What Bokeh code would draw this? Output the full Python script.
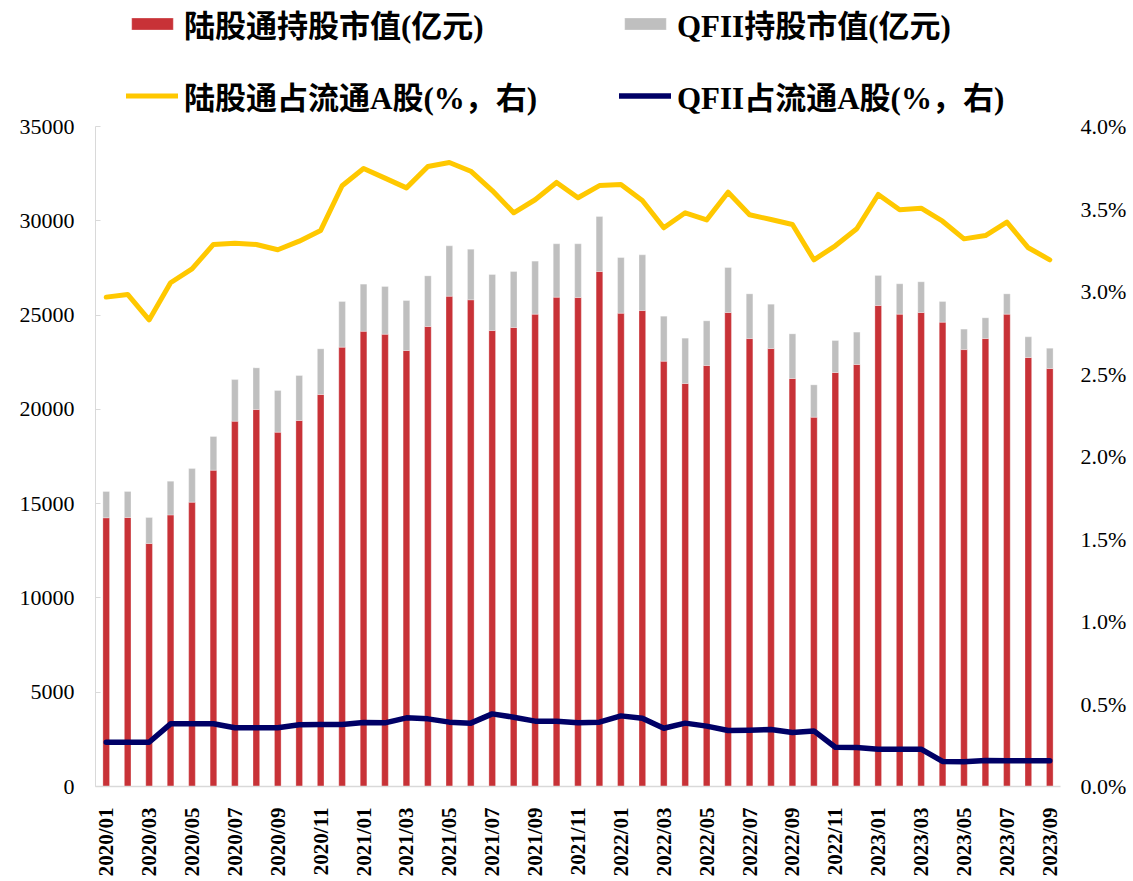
import math
from bokeh.plotting import figure
from bokeh.models import (Range1d, LinearAxis, FixedTicker, Legend, LegendItem,
                          ColumnDataSource, PrintfTickFormatter)
from bokeh.embed import file_html
from bokeh.resources import INLINE

months = [
    "2020/01", "2020/02", "2020/03", "2020/04", "2020/05", "2020/06", "2020/07", "2020/08", "2020/09",
    "2020/10", "2020/11", "2020/12",
    "2021/01", "2021/02", "2021/03", "2021/04", "2021/05", "2021/06", "2021/07", "2021/08", "2021/09",
    "2021/10", "2021/11", "2021/12",
    "2022/01", "2022/02", "2022/03", "2022/04", "2022/05", "2022/06", "2022/07", "2022/08", "2022/09",
    "2022/10", "2022/11", "2022/12",
    "2023/01", "2023/02", "2023/03", "2023/04", "2023/05", "2023/06", "2023/07", "2023/08", "2023/09",
]

# 陆股通持股市值 (亿元)
lgt_value = [14250, 14265, 12890, 14400, 15080, 16775, 19375, 19990, 18790, 19410, 20790, 23300,
             24140, 23985, 23120, 24395, 26000, 25810, 24180, 24340, 25050, 25950, 25930, 27310,
             25100, 25240, 22555, 21370, 22325, 25135, 23755, 23225, 21635, 19585, 21955, 22380,
             25510, 25050, 25135, 24625, 23170, 23755, 25050, 22750, 22165]
# QFII持股市值 (亿元)
qfii_value = [1394, 1385, 1375, 1790, 1780, 1785, 2205, 2210, 2210, 2385, 2420, 2420,
              2500, 2530, 2650, 2685, 2670, 2685, 2970, 2970, 2810, 2830, 2850, 2920,
              2950, 2955, 2385, 2405, 2370, 2385, 2370, 2350, 2370, 1715, 1695, 1715,
              1590, 1610, 1630, 1095, 1085, 1100, 1075, 1095, 1080]
# 陆股通占流通A股 (%)
lgt_pct = [2.966, 2.982, 2.828, 3.053, 3.137, 3.285, 3.293, 3.285, 3.253, 3.305, 3.370, 3.641,
           3.745, 3.687, 3.628, 3.758, 3.782, 3.729, 3.612, 3.477, 3.556, 3.661, 3.568, 3.642,
           3.648, 3.552, 3.386, 3.477, 3.434, 3.602, 3.465, 3.436, 3.406, 3.192, 3.277, 3.380,
           3.588, 3.495, 3.505, 3.426, 3.319, 3.339, 3.420, 3.265, 3.192]
# QFII占流通A股 (%)
qfii_pct = [0.268, 0.268, 0.268, 0.380, 0.380, 0.380, 0.356, 0.356, 0.356, 0.374, 0.376, 0.376,
            0.388, 0.386, 0.416, 0.410, 0.390, 0.384, 0.440, 0.420, 0.396, 0.396, 0.386, 0.390,
            0.428, 0.414, 0.353, 0.384, 0.366, 0.339, 0.341, 0.345, 0.327, 0.337, 0.238, 0.236,
            0.226, 0.226, 0.226, 0.152, 0.150, 0.158, 0.156, 0.156, 0.156]

left_ticks = [0, 5000, 10000, 15000, 20000, 25000, 30000, 35000]
right_ticks = [0.0, 0.5, 1.0, 1.5, 2.0, 2.5, 3.0, 3.5, 4.0]

labels = ["陆股通持股市值(亿元)", "QFII持股市值(亿元)", "陆股通占流通A股(%，右)", "QFII占流通A股(%，右)"]

RED = "#C83237"
GRAY = "#BFBFBF"
YELLOW = "#FFC800"
NAVY = "#000066"
AXIS = "#D9D9D9"
SERIF = "'Liberation Serif', 'Noto Sans CJK SC'"

# plot area: the value axes occupy the lower 660px of a 786px tall frame,
# the top strip of the frame holds the legend
PLOT_H = 660
TOP_H = 126
FRAME_H = PLOT_H + TOP_H
left_max = left_ticks[-1]
right_max = right_ticks[-1]

idx = list(range(len(months)))
src = ColumnDataSource(dict(x=idx, lgt=lgt_value, qfii=qfii_value, lp=lgt_pct, qp=qfii_pct))

p = figure(frame_width=965, frame_height=FRAME_H, output_backend="svg", toolbar_location=None,
           x_range=Range1d(-0.5, len(months) - 0.5),
           y_range=Range1d(0, left_max * FRAME_H / PLOT_H),
           min_border_left=95, min_border_right=70, min_border_top=0, min_border_bottom=92)
p.outline_line_color = None
p.xgrid.visible = False
p.ygrid.visible = False
p.background_fill_color = "white"
p.border_fill_color = "white"
p.extra_y_ranges = {"pct": Range1d(0, right_max * FRAME_H / PLOT_H)}

bars = p.vbar_stack(["lgt", "qfii"], x="x", width=0.31, color=[RED, GRAY], source=src,
                    line_color="white", line_width=0.5, line_alpha=0.6)
l1 = p.line("x", "lp", source=src, y_range_name="pct", color=YELLOW, line_width=5,
            line_cap="round", line_join="round")
l2 = p.line("x", "qp", source=src, y_range_name="pct", color=NAVY, line_width=5.5,
            line_cap="round", line_join="round")

# left axis
ya = p.yaxis[0]
ya.ticker = FixedTicker(ticks=left_ticks)
ya.bounds = (0, left_max)
ya.axis_line_color = AXIS
ya.major_tick_line_color = AXIS
ya.major_tick_in = 5
ya.major_tick_out = 0
ya.minor_tick_line_color = None
ya.major_label_standoff = 21
ya.major_label_text_font = SERIF
ya.major_label_text_font_size = "22px"
ya.major_label_text_color = "black"

# right axis
ra = LinearAxis(y_range_name="pct", ticker=FixedTicker(ticks=right_ticks),
                formatter=PrintfTickFormatter(format="%.1f%%"), bounds=(0, right_max))
ra.axis_line_color = None
ra.major_tick_line_color = None
ra.minor_tick_line_color = None
ra.major_label_standoff = 14
ra.major_label_text_font = SERIF
ra.major_label_text_font_size = "22px"
ra.major_label_text_color = "black"
p.add_layout(ra, "right")

# bottom axis
xa = p.xaxis[0]
xa.ticker = FixedTicker(ticks=idx[::2])
xa.major_label_overrides = {i: months[i] for i in idx}
xa.major_label_orientation = math.pi / 2
xa.axis_line_color = AXIS
xa.axis_line_width = 1.5
xa.major_tick_line_color = None
xa.minor_tick_line_color = None
xa.major_label_standoff = 15
xa.major_label_text_font = SERIF
xa.major_label_text_font_style = "bold"
xa.major_label_text_font_size = "21px"
xa.major_label_text_color = "black"


def make_legend(items, x):
    lg = Legend(items=items, location=(x, 668), orientation="vertical",
                glyph_width=52, glyph_height=15, label_standoff=6, spacing=27,
                label_height=36, padding=0, margin=0,
                border_line_color=None, background_fill_alpha=0)
    lg.label_text_font = SERIF
    lg.label_text_font_style = "bold"
    lg.label_text_font_size = "31px"
    lg.label_text_color = "black"
    return lg


leg1 = make_legend([LegendItem(label=labels[0], renderers=[bars[0]]),
                    LegendItem(label=labels[2], renderers=[l1])], 31)
leg2 = make_legend([LegendItem(label=labels[1], renderers=[bars[1]]),
                    LegendItem(label=labels[3], renderers=[l2])], 524)
p.add_layout(leg1)
p.add_layout(leg2)

open("out.html", "w").write(file_html(p, INLINE))
